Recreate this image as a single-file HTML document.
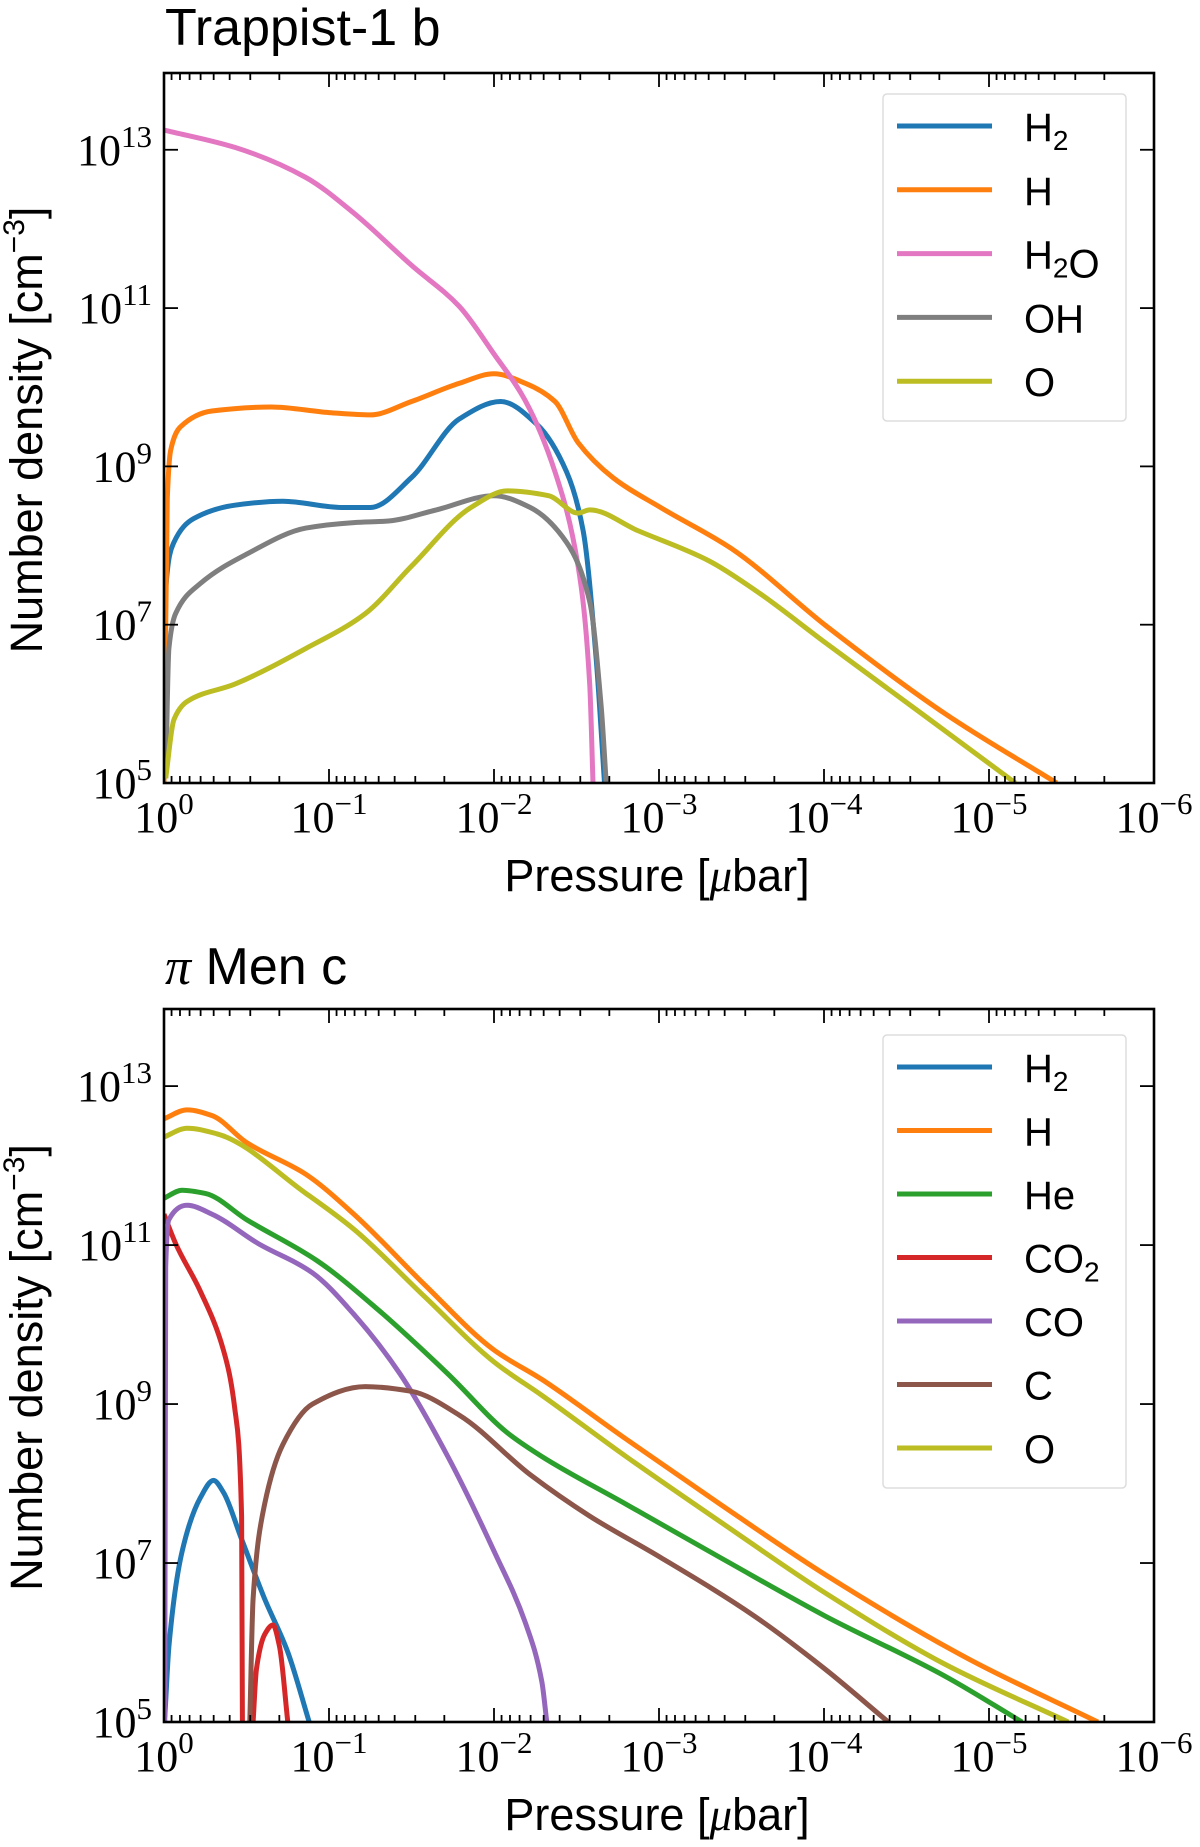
<!DOCTYPE html>
<html><head><meta charset="utf-8"><style>
html,body{margin:0;padding:0;background:#fff;}
svg{display:block;}
.tk{font-family:"Liberation Serif",serif;font-size:44px;fill:#000;}
.lab{font-family:"Liberation Sans",sans-serif;font-size:45px;fill:#000;}
.ttl{font-family:"Liberation Sans",sans-serif;font-size:52px;fill:#000;}
.leg{font-family:"Liberation Sans",sans-serif;font-size:40px;fill:#000;}
</style></head><body>
<svg id="fig" width="1200" height="1847" viewBox="0 0 1200 1847" xmlns="http://www.w3.org/2000/svg"></svg>
<script>
// Pressure exponents (d = -log10 P [μbar]) and log10 number density
const t1_H2O_d=[0,0.43,0.86,1.15,1.5,1.79,2.0,2.19,2.37,2.51,2.58,2.6];
const t1_H2O_v=[13.25,13.03,12.65,12.2,11.54,11.02,10.42,9.83,8.93,7.74,6.25,5];
const t1_H_d=[0,0.02,0.04,0.1,0.29,0.65,1.0,1.25,1.5,1.79,2.0,2.19,2.37,2.51,2.72,3.01,3.44,4.01,4.73,5.41];
const t1_H_v=[5,8.6,9.2,9.5,9.7,9.75,9.68,9.65,9.82,10.05,10.17,10.05,9.82,9.3,8.86,8.48,7.96,6.99,5.88,5];
const t1_H2_d=[0,0.01,0.06,0.18,0.43,0.72,1.08,1.25,1.5,1.79,2.04,2.26,2.44,2.54,2.62,2.67];
const t1_H2_v=[5,7.44,8.04,8.34,8.51,8.56,8.48,8.48,8.86,9.6,9.82,9.53,8.93,8.19,6.55,5];
const t1_OH_d=[0.01,0.03,0.07,0.22,0.5,0.86,1.15,1.36,1.65,2.0,2.22,2.44,2.58,2.65,2.68];
const t1_OH_v=[5.06,6.7,7.14,7.52,7.89,8.22,8.29,8.31,8.45,8.63,8.48,8.04,7.29,5.95,5];
const t1_O_d=[0.01,0.06,0.14,0.43,0.86,1.22,1.5,1.86,2.08,2.33,2.51,2.58,2.87,3.3,3.58,4.01,4.59,5.16];
const t1_O_v=[5.06,5.8,6.03,6.25,6.7,7.14,7.74,8.48,8.69,8.63,8.41,8.45,8.19,7.81,7.44,6.77,5.88,5];

const pm_H_d=[0,0.14,0.29,0.5,0.86,1.15,1.58,2.0,2.29,2.8,3.37,4.01,4.87,5.66];
const pm_H_v=[12.59,12.7,12.63,12.29,11.89,11.39,10.5,9.68,9.31,8.56,7.74,6.85,5.8,5];
const pm_O_d=[0,0.14,0.32,0.86,1.15,1.58,2.0,2.29,2.8,3.37,4.01,4.73,5.48];
const pm_O_v=[12.36,12.47,12.4,11.65,11.2,10.35,9.53,9.11,8.34,7.52,6.62,5.73,5];
const pm_He_d=[0,0.11,0.25,0.5,0.93,1.29,1.72,2.08,2.29,2.8,3.37,4.01,4.73,5.2];
const pm_He_v=[11.59,11.69,11.65,11.32,10.8,10.2,9.38,8.64,8.34,7.74,7.07,6.33,5.58,5];
const pm_CO_d=[0.005,0.01,0.03,0.14,0.29,0.57,0.9,1.15,1.43,1.72,2.0,2.19,2.29,2.32];
const pm_CO_v=[5,10.72,11.32,11.5,11.39,11.02,10.65,10.13,9.38,8.34,7.15,6.25,5.51,5];
const pm_CO2a_d=[0,0.07,0.22,0.36,0.43,0.47,0.475];
const pm_CO2a_v=[11.39,11.02,10.42,9.68,8.93,7.59,5];
const pm_CO2b_d=[0.54,0.56,0.61,0.66,0.7,0.75];
const pm_CO2b_v=[5,5.66,6.1,6.22,5.95,5];
const pm_H2_d=[0.005,0.03,0.11,0.22,0.3,0.36,0.47,0.61,0.75,0.88];
const pm_H2_v=[5.06,5.95,7.15,7.82,8.04,7.89,7.3,6.55,5.88,5];
const pm_C_d=[0.52,0.54,0.61,0.72,0.9,1.22,1.5,1.79,2.22,2.58,3.01,3.58,4.01,4.39];
const pm_C_v=[5,6.55,7.74,8.49,9.0,9.22,9.16,8.86,8.11,7.59,7.07,6.33,5.66,5];

const xTickExps=[0,1,2,3,4,5,6];
const yTickExps=[5,7,9,11,13];

const C={blue:'#1f77b4',orange:'#ff7f0e',green:'#2ca02c',red:'#d62728',purple:'#9467bd',brown:'#8c564b',pink:'#e377c2',gray:'#7f7f7f',olive:'#bcbd22'};
const NS='http://www.w3.org/2000/svg';
const svg=document.getElementById('fig');
function mk(tag,attrs,parent){const e=document.createElementNS(NS,tag);for(const k in attrs)e.setAttribute(k,attrs[k]);(parent||svg).appendChild(e);return e;}

// monotone cubic path (Fritsch-Carlson) through pixel points with increasing x
function smoothPath(P){
  const n=P.length;
  if(n<3)return 'M'+P.map(p=>p[0].toFixed(1)+','+p[1].toFixed(1)).join('L');
  const dx=[],s=[];
  for(let i=0;i<n-1;i++){dx[i]=Math.max(P[i+1][0]-P[i][0],1e-6);s[i]=(P[i+1][1]-P[i][1])/dx[i];}
  const m=[s[0]];
  for(let i=1;i<n-1;i++){m[i]=(s[i-1]*s[i]<=0)?0:3*(dx[i-1]+dx[i])/((2*dx[i]+dx[i-1])/s[i-1]+(dx[i]+2*dx[i-1])/s[i]);}
  m[n-1]=s[n-2];
  let d='M'+P[0][0].toFixed(1)+','+P[0][1].toFixed(1);
  for(let i=0;i<n-1;i++){
    const h=dx[i]/3;
    d+='C'+(P[i][0]+h).toFixed(1)+','+(P[i][1]+m[i]*h).toFixed(1)+' '+(P[i+1][0]-h).toFixed(1)+','+(P[i+1][1]-m[i+1]*h).toFixed(1)+' '+P[i+1][0].toFixed(1)+','+P[i+1][1].toFixed(1);
  }
  return d;
}

function panel(cfg){
  const L=164,R=1154,T=cfg.top,B=cfg.bottom;
  const xs=d=>L+(R-L)*d/6;
  const ymin=5,ymax=13.97;
  const ys=v=>B-(B-T)*(v-ymin)/(ymax-ymin);
  const g=mk('g',{});
  
  
  const clip=mk('clipPath',{id:'clip-'+cfg.name},g);
  mk('rect',{x:L,y:T,width:R-L,height:B-T},clip);
  const series=mk('g',{'clip-path':'url(#clip-'+cfg.name+')'},g);
  cfg.series.forEach(s=>{
    const P=s.d.map((d,i)=>[xs(d),ys(s.v[i])]);
    const p=mk('path',{d:smoothPath(P),fill:'none',stroke:s.c,'stroke-width':5,'stroke-linejoin':'round','stroke-linecap':'butt'},series);
    
    
  });
  const ticks=mk('g',{stroke:'#000','stroke-width':1.8},g);
  xTickExps.forEach(e=>{
    const x=xs(e);
    mk('line',{x1:x,y1:B,x2:x,y2:B-14},ticks);mk('line',{x1:x,y1:T,x2:x,y2:T+14},ticks);
    if(e<6){for(let k=2;k<=9;k++){const xm=xs(e+1-Math.log10(k));
      mk('line',{x1:xm,y1:B,x2:xm,y2:B-7},ticks);mk('line',{x1:xm,y1:T,x2:xm,y2:T+7},ticks);}}
    const t=mk('text',{x:x,y:cfg.bottom+49,'text-anchor':'middle',class:'tk'},g);
    
    
    t.innerHTML='10<tspan font-size="31" dy="-18">'+(e===0?'0':'\u2212'+e)+'</tspan>';
  });
  yTickExps.forEach(e=>{
    const y=ys(e);
    mk('line',{x1:L,y1:y,x2:L+14,y2:y},ticks);mk('line',{x1:R,y1:y,x2:R-14,y2:y},ticks);
    const t=mk('text',{x:152,y:y+15,'text-anchor':'end',class:'tk'},g);
    
    
    t.innerHTML='10<tspan font-size="31" dy="-18">'+e+'</tspan>';
  });
  const fr=mk('rect',{x:L,y:T,width:R-L,height:B-T,fill:'none',stroke:'#000','stroke-width':2.6},g);
  
  
  const ti=mk('text',{x:165,y:cfg.titleY,class:'ttl'},g);
  
  
  ti.innerHTML=cfg.title;
  const xl=mk('text',{x:657,y:cfg.bottom+108,'text-anchor':'middle',class:'lab'},g);
  
  
  xl.innerHTML='Pressure [<tspan font-family="Liberation Serif" font-style="italic">μ</tspan>bar]';
  const cy=(T+B)/2;
  const yl=mk('text',{x:0,y:0,'text-anchor':'middle',class:'lab',transform:'translate(42,'+(cy+2)+') rotate(-90)'},g);
  
  
  yl.innerHTML='Number density [cm<tspan font-size="30" dy="-18">\u22123</tspan><tspan dy="18">]</tspan>';
  const lg=mk('g',{},g);
  
  
  mk('rect',{x:883,y:cfg.legTop,width:243,height:cfg.legH,rx:4,fill:'#fff',stroke:'#ddd','stroke-width':1.5},lg);
  cfg.legend.forEach((s,i)=>{
    const y=cfg.legFirst+i*cfg.legStep;
    const e=mk('g',{},lg);
    
    
    mk('line',{x1:897,y1:y,x2:992,y2:y,stroke:s.c,'stroke-width':5},e);
    const t=mk('text',{x:1024,y:y+15,class:'leg'},e);
    t.innerHTML=s.label;
  });
}
const sub=n=>'<tspan font-size="28" dy="9">'+n+'</tspan><tspan dy="-9"></tspan>';
panel({name:'trappist-panel',top:73,bottom:783,title:'Trappist-1 b',titleY:45,
 series:[{n:'H2',d:t1_H2_d,v:t1_H2_v,c:C.blue},{n:'H',d:t1_H_d,v:t1_H_v,c:C.orange},{n:'H2O',d:t1_H2O_d,v:t1_H2O_v,c:C.pink},{n:'OH',d:t1_OH_d,v:t1_OH_v,c:C.gray},{n:'O',d:t1_O_d,v:t1_O_v,c:C.olive}],
 legTop:94,legH:327,legFirst:126,legStep:63.8,
 legend:[{key:'h2',label:'H'+sub(2),c:C.blue},{key:'h',label:'H',c:C.orange},{key:'h2o',label:'H'+sub(2)+'O',c:C.pink},{key:'oh',label:'OH',c:C.gray},{key:'o',label:'O',c:C.olive}]});
panel({name:'pimen-panel',top:1009,bottom:1722,title:'<tspan font-family="Liberation Serif" font-style="italic">π</tspan> Men c',titleY:984,
 series:[{n:'H2',d:pm_H2_d,v:pm_H2_v,c:C.blue},{n:'H',d:pm_H_d,v:pm_H_v,c:C.orange},{n:'He',d:pm_He_d,v:pm_He_v,c:C.green},{n:'CO2a',d:pm_CO2a_d,v:pm_CO2a_v,c:C.red},{n:'CO2b',d:pm_CO2b_d,v:pm_CO2b_v,c:C.red},{n:'CO',d:pm_CO_d,v:pm_CO_v,c:C.purple},{n:'C',d:pm_C_d,v:pm_C_v,c:C.brown},{n:'O',d:pm_O_d,v:pm_O_v,c:C.olive}],
 legTop:1035,legH:453,legFirst:1067,legStep:63.5,
 legend:[{key:'h2',label:'H'+sub(2),c:C.blue},{key:'h',label:'H',c:C.orange},{key:'he',label:'He',c:C.green},{key:'co2',label:'CO'+sub(2),c:C.red},{key:'co',label:'CO',c:C.purple},{key:'c',label:'C',c:C.brown},{key:'o',label:'O',c:C.olive}]});
</script>
</body></html>
